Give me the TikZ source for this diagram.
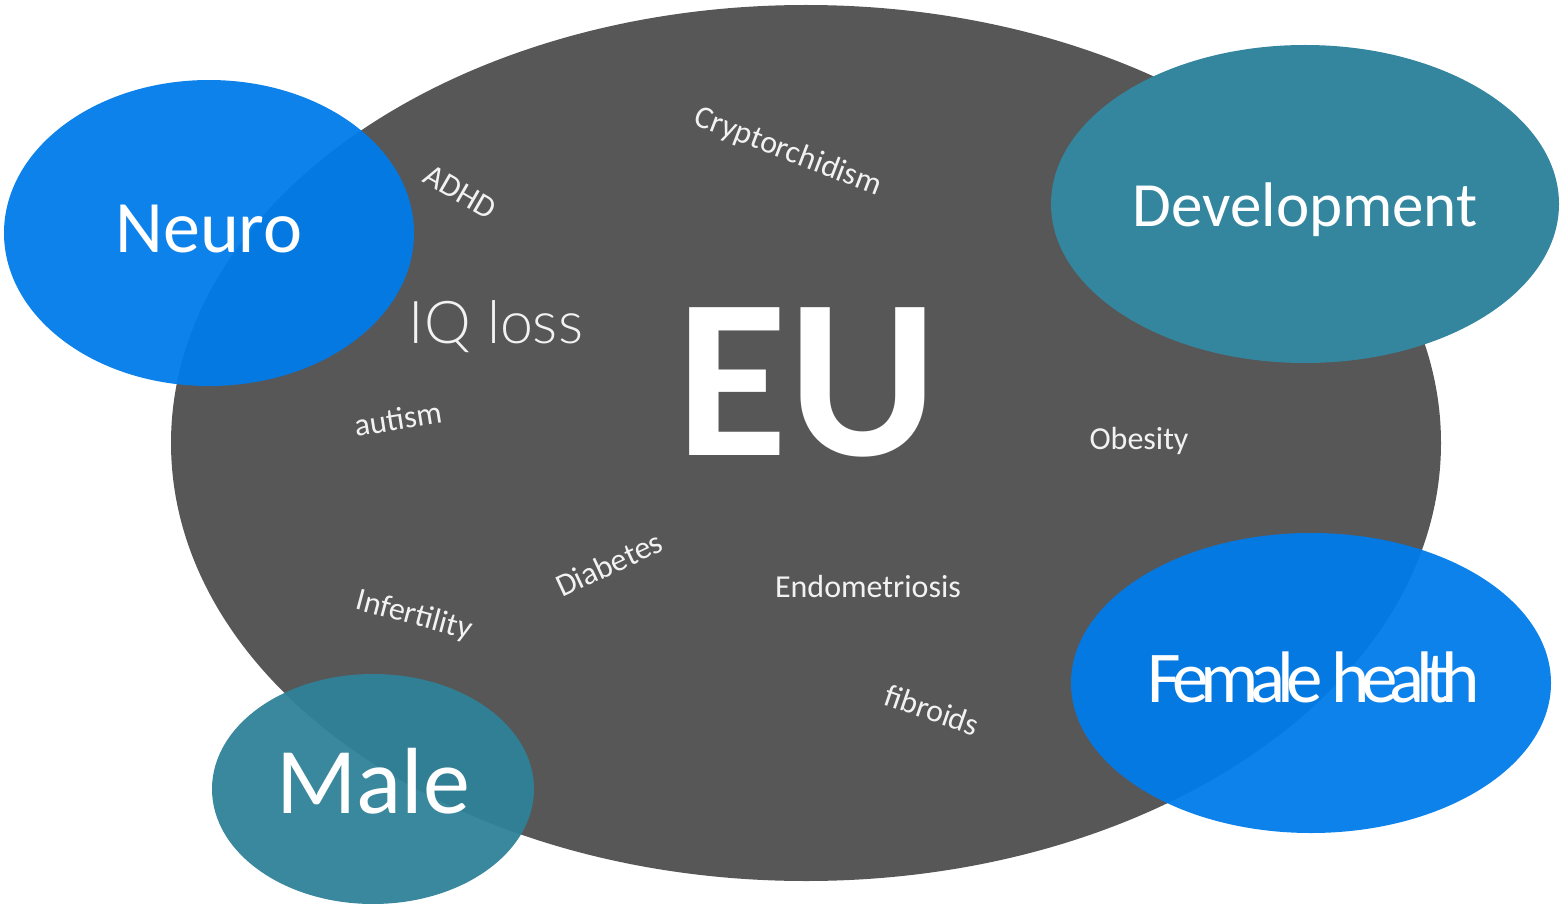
\documentclass[tikz,border=0pt]{standalone}
\usepackage{fontspec}
\setmainfont{Carlito}
\newfontfamily\tightfont{Carlito}[LetterSpace=-11]
\newfontfamily\lightfont{Lato Light}
\definecolor{eugray}{HTML}{575757}
\definecolor{blobblue}{HTML}{007BE9}
\definecolor{blobteal}{HTML}{2E8299}
\definecolor{devteal}{HTML}{33869E}
\definecolor{labelgray}{HTML}{F2F2F2}
\tikzset{
  blobblue/.style={fill=blobblue, fill opacity=0.95},
  blobteal/.style={fill=blobteal, fill opacity=0.95},
  label/.style={text=labelgray, inner sep=0pt, font=\fontsize{32}{36}\selectfont},
  title/.style={text=white, inner sep=0pt, anchor=base},
}
\begin{document}
\begin{tikzpicture}[x=1pt, y=-1pt]
\useasboundingbox (0,0) rectangle (1561,904);

% central EU area
\fill[eugray] (806,443) ellipse [x radius=635, y radius=438];

% surrounding topic areas
\fill[blobblue] (209,233) ellipse [x radius=205, y radius=153];
\fill[devteal] (1305,204) ellipse [x radius=254, y radius=159];
\fill[blobblue] (1311,683) ellipse [x radius=240, y radius=150];
\fill[blobteal] (373,789) ellipse [x radius=161, y radius=115];

% headings
\node[title, font=\bfseries\fontsize{228}{236}\selectfont] (eu) at (807,455) {EU};
\node[title, font=\fontsize{74}{80}\selectfont] (neuro) at (209,253) {Neuro};
\node[title, font=\fontsize{63}{68}\selectfont] (dev) at (1305,226) {Development};
\node[title, font=\fontsize{94}{100}\selectfont] (male) at (373,813) {Male};
\node[title, font=\tightfont\fontsize{73}{80}\selectfont] (female) at (1314,702) {Female health};

% conditions
\node[label, anchor=base, font=\lightfont\fontsize{59}{64}\selectfont] (iq) at (496,343) {IQ loss};
\node[label, rotate=-30] (adhd) at (460,192) {ADHD};
\node[label, rotate=-21] (crypt) at (788,152) {Cryptorchidism};
\node[label, rotate=9] (autism) at (398,419) {autism};
\node[label, anchor=base] (obesity) at (1139,449) {Obesity};
\node[label, rotate=25] (diabetes) at (609,564) {Diabetes};
\node[label, rotate=-15] (infert) at (414,616) {Infertility};
\node[label, anchor=base] (endo) at (868,597) {Endometriosis};
\node[label, rotate=-19] (fibroids) at (932,710) {fibroids};
\end{tikzpicture}
\end{document}
